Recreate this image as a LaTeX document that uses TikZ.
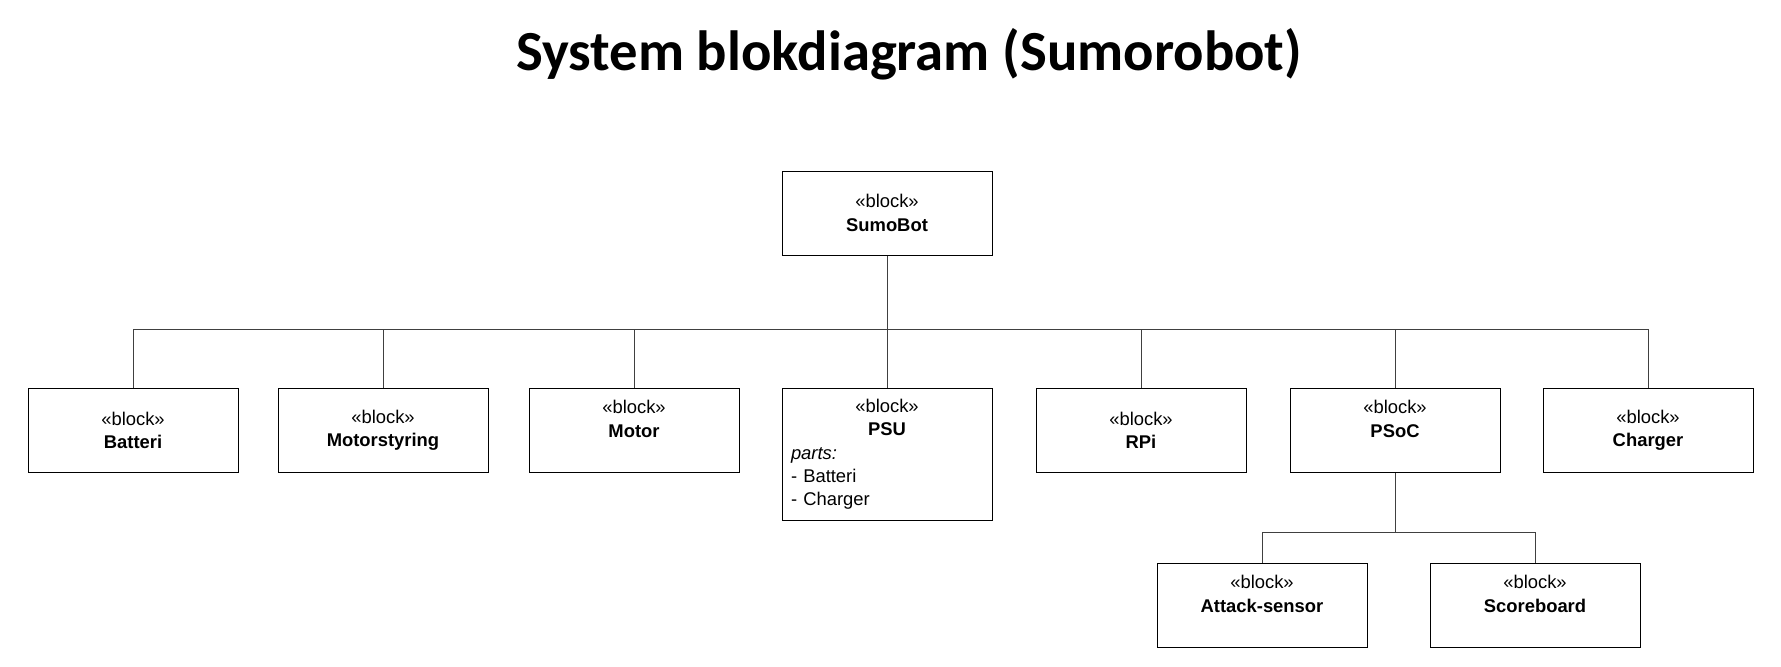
\documentclass[tikz,border=0pt]{standalone}
\usepackage{fontspec}
\setmainfont{Liberation Sans}
\newfontfamily\titlefont{Carlito}
\usetikzlibrary{positioning}

\begin{document}
\begin{tikzpicture}[x=0.75pt,y=-0.75pt,line width=0.75pt,
    block node/.style={draw,minimum width=157.5pt,minimum height=63pt,align=center,inner sep=4pt,font=\fontsize{13.8}{17.5}\selectfont},
    bus line/.style={draw=black!75}]

    \useasboundingbox (0,0) rectangle (1781,667);

    \node[anchor=base,font=\titlefont\bfseries\fontsize{42.5}{50}\selectfont] (title) at (909,71) {System blokdiagram (Sumorobot)};

    % top block
    \node[block node] (sumobot) at (887,213) {«block»\\\textbf{SumoBot}};

    % first level
    \node[block node,anchor=north] (batteri) at (133,388) {«block»\\\textbf{Batteri}};
    \node[block node,anchor=north] (motorstyring) at (383,388) {«block»\\\textbf{Motorstyring}};
    \node[block node,anchor=north] (motor) at (634,388) {«block»\\\textbf{Motor}\\\mbox{}};
    \node[block node,anchor=north,minimum height=99pt,inner xsep=6.75pt,text width=144pt,align=left] (psu) at (887,388)
        {{\centering «block»\\\textbf{PSU}\par}\textit{parts:}\\- Batteri\\- Charger};
    \node[block node,anchor=north] (rpi) at (1141,388) {«block»\\\textbf{RPi}};
    \node[block node,anchor=north] (psoc) at (1395,388) {«block»\\\textbf{PSoC}\\\mbox{}};
    \node[block node,anchor=north] (charger) at (1648,388) {«block»\\\textbf{Charger}};

    % second level
    \node[block node,anchor=north] (attack) at (1262,563) {«block»\\\textbf{Attack-sensor}\\\mbox{}};
    \node[block node,anchor=north] (scoreboard) at (1535,563) {«block»\\\textbf{Scoreboard}\\\mbox{}};

    \coordinate (bus) at (887,329);
    \coordinate (psocbus) at (1395,532);

    \path[bus line]
        (sumobot) edge (psu)
        (psoc) edge (psocbus)
    ;
    \draw[bus line] (batteri.north) |- (bus);
    \draw[bus line] (motorstyring.north) |- (bus);
    \draw[bus line] (motor.north) |- (bus);
    \draw[bus line] (rpi.north) |- (bus);
    \draw[bus line] (psoc.north) |- (bus);
    \draw[bus line] (charger.north) |- (bus);
    \draw[bus line] (attack.north) |- (psocbus);
    \draw[bus line] (scoreboard.north) |- (psocbus);
\end{tikzpicture}
\end{document}
